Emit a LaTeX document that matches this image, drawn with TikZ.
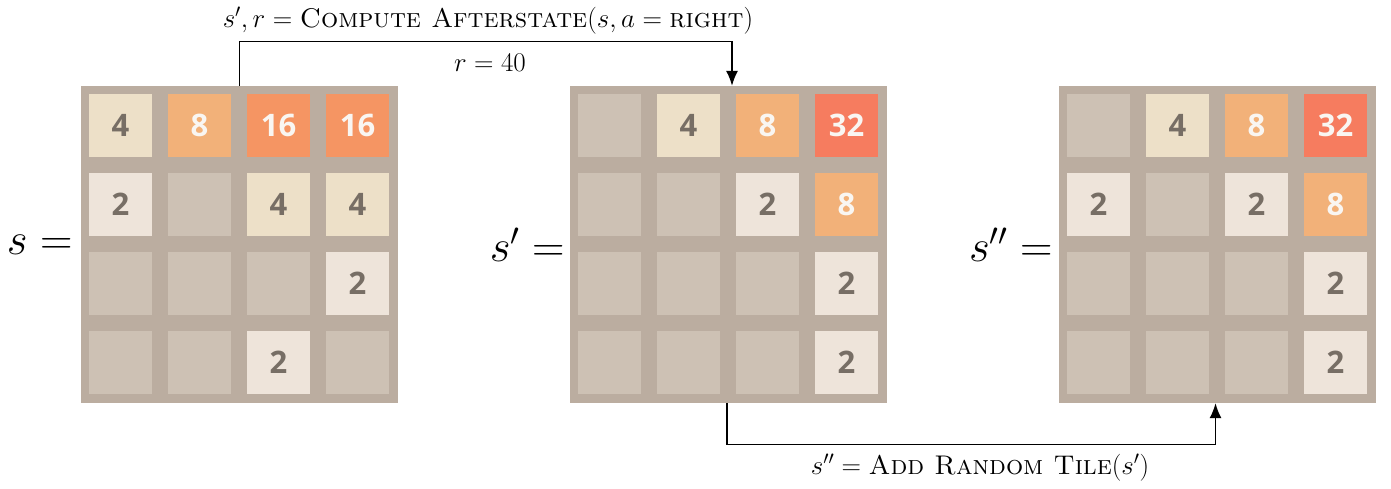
\RequirePackage{fix-cm}
\documentclass[tikz,border=0pt]{standalone}
\usepackage{fontspec}
\newfontfamily\tilefont{Open Sans}
\usetikzlibrary{arrows.meta,calc}
\definecolor{boardbg}{HTML}{BBADA0}
\definecolor{emptytile}{HTML}{CDC1B4}
\definecolor{t2}{HTML}{EEE4DA}
\definecolor{t4}{HTML}{EDE0C8}
\definecolor{t8}{HTML}{F2B179}
\definecolor{t16}{HTML}{F59563}
\definecolor{t32}{HTML}{F67C5F}
\definecolor{darktxt}{HTML}{776E65}
\definecolor{lighttxt}{HTML}{F9F6F2}
\tikzset{
  board/.style={fill=boardbg, minimum width=317pt, minimum height=317pt, inner sep=0pt, draw=none},
  tile/.style={minimum width=63pt, minimum height=63pt, inner sep=0pt, anchor=north west, draw=none,
    font=\tilefont\bfseries\fontsize{31}{31}\selectfont},
  eqlabel/.style={font=\fontsize{45}{54}\selectfont, anchor=east, inner sep=0pt},
  biglabel/.style={font=\fontsize{27}{32}\selectfont, inner sep=0pt},
  flow/.style={line width=1.4pt, -{Latex[length=15pt,width=12pt]}}
}
\begin{document}
\begin{tikzpicture}[x=1pt,y=-1pt]
\useasboundingbox (0,0) rectangle (1391,489);
% boards
\foreach \b/\cx in {1/239.5, 2/728.5, 3/1217.5}{
  \node[board] (b\b) at (\cx,244.5) {};
  \foreach \r in {1,2,3,4}{
    \foreach \c in {1,2,3,4}{
      \node[tile, fill=emptytile] (b\b e\r\c) at ($(b\b.north west)+({8+79*(\c-1)},{8+79*(\r-1)})$) {};
    }
  }
}
% board 1 tiles
\foreach \r/\c/\v/\tc in {1/1/4/darktxt,1/2/8/lighttxt,1/3/16/lighttxt,1/4/16/lighttxt,
  2/1/2/darktxt,2/3/4/darktxt,2/4/4/darktxt,3/4/2/darktxt,4/3/2/darktxt}{
  \node[tile, fill=t\v, text=\tc] (b1n\r\c) at (b1e\r\c.north west) {\v};
}
% board 2 tiles
\foreach \r/\c/\v/\tc in {1/2/4/darktxt,1/3/8/lighttxt,1/4/32/lighttxt,
  2/3/2/darktxt,2/4/8/lighttxt,3/4/2/darktxt,4/4/2/darktxt}{
  \node[tile, fill=t\v, text=\tc] (b2n\r\c) at (b2e\r\c.north west) {\v};
}
% board 3 tiles
\foreach \r/\c/\v/\tc in {1/2/4/darktxt,1/3/8/lighttxt,1/4/32/lighttxt,
  2/1/2/darktxt,2/3/2/darktxt,2/4/8/lighttxt,3/4/2/darktxt,4/4/2/darktxt}{
  \node[tile, fill=t\v, text=\tc] (b3n\r\c) at (b3e\r\c.north west) {\v};
}
% state labels
\node[eqlabel] (l1) at ([xshift=-8pt]b1.west) {$s=$};
\node[eqlabel] (l2) at ([xshift=-5pt]b2.west) {$s'=$};
\node[eqlabel] (l3) at ([xshift=-6pt]b3.west) {$s''=$};
% connectors
\coordinate (a1e) at ([xshift=3.5pt]b2.north);
\coordinate (a2s) at ([xshift=-1.5pt]b2.south);
\coordinate (a2e) at ([xshift=-2pt]b3.south);
\draw[flow] (b1.north) -- ++(0,-44) -| (a1e);
\draw[flow] (a2s) -- ++(0,41) -| (a2e);
% texts
\node[biglabel] (t1) at (488,20.5) {$s', r = \textsc{Compute Afterstate}(s, a = \textsc{right})$};
\node[biglabel] (t2) at (490,63) {$r = 40$};
\node[biglabel] (t3) at (980,468) {$s'' = \textsc{Add Random Tile}(s')$};
\end{tikzpicture}
\end{document}
